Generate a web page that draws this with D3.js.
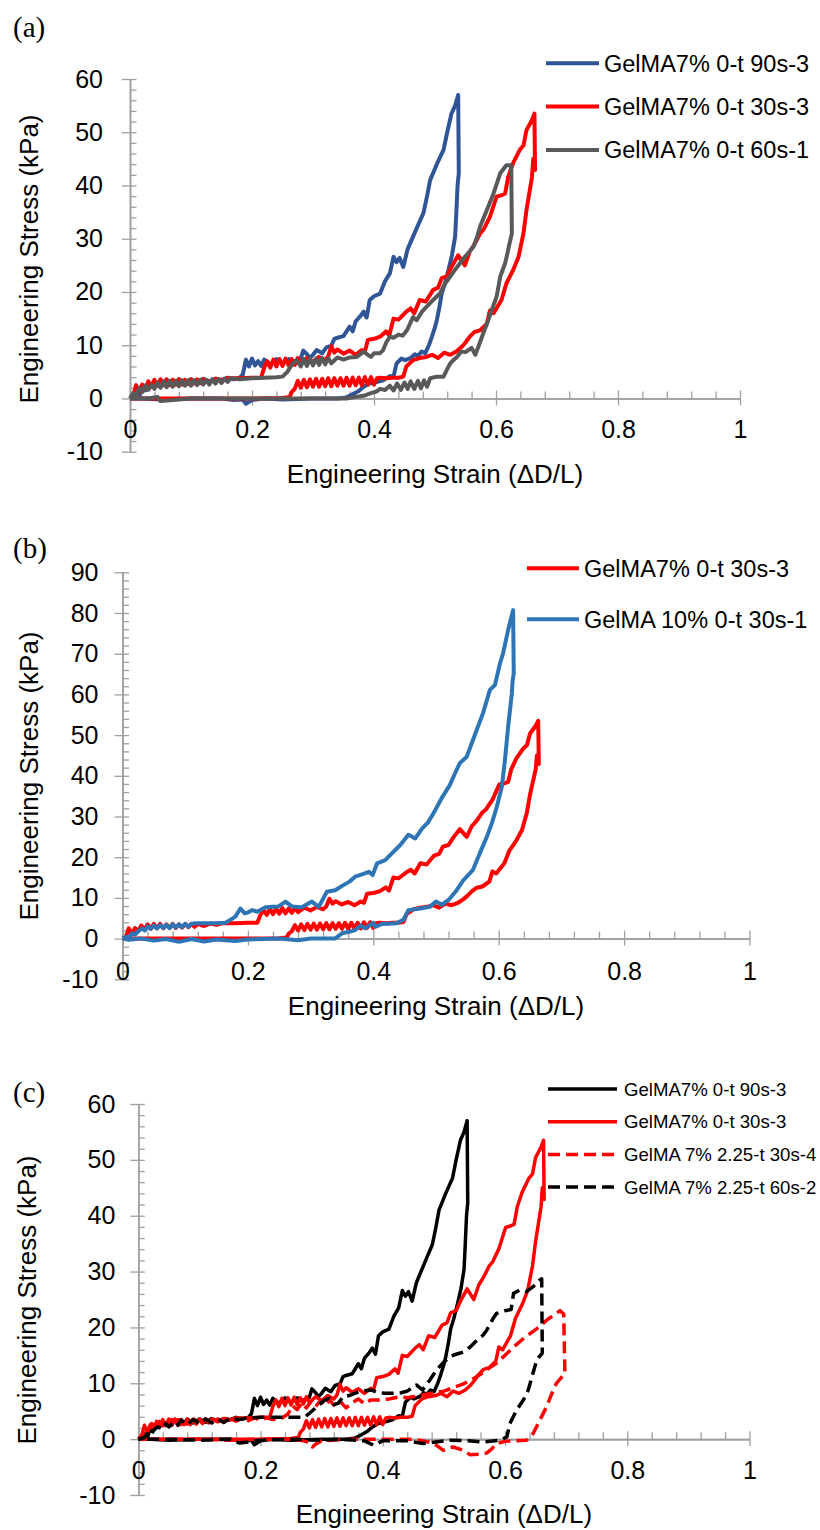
<!DOCTYPE html>
<html>
<head>
<meta charset="utf-8">
<script src="https://cdn.jsdelivr.net/npm/d3@7"></script>
<style>
  body { margin: 0; background: #fff; }
  text { font-family: "Liberation Sans", Arial, sans-serif; }
</style>
</head>
<body>
<div id="chart"></div>
<script>
// tick labels
var xTicks = [0, 0.2, 0.4, 0.6, 0.8, 1];
var yTicksA = [-10, 0, 10, 20, 30, 40, 50, 60];
var yTicksB = [-10, 0, 10, 20, 30, 40, 50, 60, 70, 80, 90];
var yTicksC = [-10, 0, 10, 20, 30, 40, 50, 60];

// series: [strain, stress(kPa)], loading then unloading
var gel7_90s3 = [[0,0],[0.005,0.2],[0.01,1],[0.015,0.3],[0.02,2],[0.025,1.5],[0.03,3],[0.035,2.2],[0.04,3.3],[0.045,2.5],[0.05,3.4],[0.055,2.6],[0.06,3.5],[0.065,2.7],[0.07,3.5],[0.075,2.8],[0.08,3.6],[0.09,2.9],[0.1,3.6],[0.11,3],[0.12,3.7],[0.13,3.2],[0.14,3.7],[0.15,3.5],[0.16,3.9],[0.17,3.6],[0.18,3.9],[0.185,4.5],[0.19,7.3],[0.195,6],[0.2,7.5],[0.205,6.2],[0.21,7],[0.215,6.1],[0.22,7.3],[0.23,6.4],[0.24,7.4],[0.25,6.6],[0.26,7.4],[0.27,6.9],[0.28,7.5],[0.284,9],[0.29,8.3],[0.295,7.6],[0.3,8.2],[0.306,9.1],[0.315,8.5],[0.322,9.6],[0.33,9.9],[0.335,11.2],[0.34,11.4],[0.35,11.7],[0.355,12.6],[0.36,13.5],[0.365,12.6],[0.37,14.5],[0.378,15.5],[0.383,16.3],[0.388,15.2],[0.393,18.5],[0.4,19.2],[0.41,19.7],[0.418,22],[0.426,23.5],[0.432,26.6],[0.437,25.6],[0.442,26.4],[0.448,24.7],[0.455,28],[0.464,30.4],[0.472,32.5],[0.481,34.8],[0.487,38],[0.492,41],[0.503,44],[0.514,46.7],[0.52,50],[0.527,53.5],[0.533,55],[0.538,57],[0.539,42.3],[0.537,40],[0.535,35],[0.533,30.4],[0.528,27],[0.522,24.1],[0.516,21.5],[0.511,19.7],[0.507,17],[0.503,14.7],[0.499,13],[0.495,11.6],[0.49,10],[0.484,8.5],[0.478,8.8],[0.472,8],[0.467,8.3],[0.46,7.6],[0.451,7.2],[0.445,7.5],[0.437,6.6],[0.432,4.1],[0.426,4.2],[0.415,3.4],[0.404,3.1],[0.393,2.8],[0.383,2.2],[0.375,1.4],[0.365,0.8],[0.355,0.2],[0.34,0],[0.3,0],[0.25,-0.2],[0.22,0],[0.2,-0.3],[0.19,-1],[0.185,-0.2],[0.17,-0.3],[0.15,0],[0.1,0],[0.05,-0.2],[0.02,0],[0,0]];

var gel7_30s3 = [[0,0],[0.005,0.3],[0.01,2.5],[0.015,1.2],[0.02,2.6],[0.025,1.8],[0.03,3.2],[0.035,2.2],[0.04,3.5],[0.045,2.4],[0.05,3.6],[0.055,2.5],[0.06,3.6],[0.065,2.5],[0.07,3.5],[0.075,2.6],[0.08,3.6],[0.085,2.6],[0.09,3.5],[0.095,2.7],[0.1,3.6],[0.105,2.8],[0.11,3.6],[0.115,2.9],[0.12,3.6],[0.13,3.1],[0.14,3.7],[0.15,3.4],[0.16,3.8],[0.18,3.8],[0.2,3.9],[0.215,3.9],[0.22,5.8],[0.225,7],[0.23,5.8],[0.235,7.3],[0.24,6],[0.245,7.4],[0.25,6.1],[0.255,7.5],[0.26,6.2],[0.265,7.4],[0.27,6.3],[0.275,7.6],[0.28,6.5],[0.29,7.6],[0.3,6.9],[0.31,7.8],[0.32,7.2],[0.325,7.9],[0.33,9.8],[0.335,8.6],[0.34,9.2],[0.35,8.4],[0.36,9],[0.37,8.2],[0.38,9.1],[0.385,8.8],[0.39,11],[0.4,11.2],[0.41,11.6],[0.42,12.6],[0.425,11.8],[0.432,15],[0.44,14.8],[0.453,16.3],[0.46,16.9],[0.466,16],[0.475,18.5],[0.485,18.2],[0.497,20.4],[0.505,20.8],[0.511,22.6],[0.52,23],[0.527,24.7],[0.538,26.9],[0.549,25],[0.557,27.6],[0.565,29],[0.574,31],[0.58,31.8],[0.59,34.1],[0.601,37.9],[0.61,38.2],[0.615,38.5],[0.62,41.6],[0.628,44.2],[0.639,46.7],[0.645,47.5],[0.65,50.4],[0.659,52.3],[0.663,53.5],[0.664,42.9],[0.661,45],[0.659,41.6],[0.65,35.4],[0.645,31],[0.637,26.6],[0.628,24.1],[0.617,21.6],[0.609,18.5],[0.596,16],[0.59,16.5],[0.585,14],[0.574,12.8],[0.565,12.5],[0.557,11.6],[0.55,10.5],[0.544,9.7],[0.535,8.8],[0.525,8.2],[0.515,8.6],[0.505,7.6],[0.495,8.2],[0.486,7.8],[0.475,7.6],[0.464,7.2],[0.453,6],[0.448,4.1],[0.44,3.9],[0.43,3.9],[0.42,3.8],[0.41,3.9],[0.405,3.8],[0.4,2.6],[0.395,4],[0.39,2.6],[0.385,4],[0.38,2.5],[0.375,3.9],[0.37,2.5],[0.365,3.9],[0.36,2.4],[0.355,3.9],[0.35,2.4],[0.345,3.8],[0.34,2.4],[0.335,3.8],[0.33,2.3],[0.325,3.8],[0.32,2.3],[0.315,3.7],[0.31,2.2],[0.305,3.7],[0.3,2.2],[0.295,3.6],[0.29,2.1],[0.285,3.5],[0.28,2],[0.275,3.3],[0.27,1.8],[0.265,1.2],[0.262,0.3],[0.25,0.1],[0.2,0],[0.15,0],[0.1,0],[0.05,0],[0.02,0],[0,0]];

var gel7_60s1 = [[0,0],[0.005,1],[0.01,0.3],[0.015,2],[0.02,1.2],[0.025,2.4],[0.03,1.6],[0.035,2.6],[0.04,1.8],[0.045,3],[0.05,2],[0.055,3.2],[0.06,2.1],[0.065,3.3],[0.07,2.2],[0.075,3.3],[0.08,2.3],[0.085,3.4],[0.09,2.4],[0.095,3.4],[0.1,2.4],[0.105,3.4],[0.11,2.5],[0.115,3.5],[0.12,2.6],[0.125,3.5],[0.13,2.6],[0.135,3.6],[0.14,2.8],[0.145,3.6],[0.15,2.9],[0.155,3.7],[0.16,3.1],[0.165,3.8],[0.18,3.6],[0.2,3.8],[0.22,3.9],[0.24,4],[0.25,4.1],[0.258,5],[0.265,6.3],[0.273,7.2],[0.28,6],[0.285,7.4],[0.29,6.1],[0.295,7.5],[0.3,6.2],[0.305,7.5],[0.31,6.3],[0.315,7.6],[0.32,6.4],[0.325,7.6],[0.33,6.6],[0.34,7.7],[0.35,7.3],[0.36,7.7],[0.372,7.8],[0.383,8.8],[0.39,8.2],[0.395,7.8],[0.4,8.5],[0.41,8.5],[0.415,9.1],[0.42,10.5],[0.426,11.6],[0.432,11.4],[0.44,12],[0.447,11.8],[0.454,12.8],[0.464,15.3],[0.47,14.7],[0.478,16.2],[0.486,17.2],[0.497,18.5],[0.508,19.7],[0.516,21.5],[0.525,22.9],[0.533,24.2],[0.541,25.4],[0.549,26.6],[0.556,27.5],[0.563,28.5],[0.568,30],[0.574,32.3],[0.585,35.4],[0.596,38.5],[0.607,42.3],[0.617,43.8],[0.625,43.8],[0.626,31],[0.622,29],[0.62,27.9],[0.615,25.4],[0.607,22.9],[0.601,19.1],[0.593,16.6],[0.586,14.3],[0.579,12.2],[0.572,10],[0.566,8.2],[0.56,9.5],[0.55,8.7],[0.543,8.8],[0.536,7.8],[0.53,7.2],[0.525,6.6],[0.52,5.5],[0.514,4.1],[0.503,4.1],[0.492,3.8],[0.487,2.2],[0.482,3.4],[0.477,1.9],[0.472,3.3],[0.466,1.8],[0.46,3.2],[0.455,1.8],[0.45,3],[0.444,1.6],[0.438,2.8],[0.432,1.5],[0.426,2.4],[0.418,1.6],[0.41,1.8],[0.404,1.3],[0.395,1],[0.383,0.5],[0.37,0.3],[0.355,0],[0.3,0],[0.25,0],[0.2,0],[0.15,0],[0.1,0],[0.05,-0.5],[0.045,0.3],[0.03,0],[0,0]];

var gel10_30s1 = [[0,0],[0.005,0.4],[0.01,0.2],[0.015,1.3],[0.02,1],[0.025,1.8],[0.031,2.5],[0.036,2],[0.04,3],[0.045,2.4],[0.05,3.2],[0.055,2.5],[0.06,3.3],[0.065,2.6],[0.07,3.4],[0.075,2.6],[0.08,3.5],[0.085,2.7],[0.09,3.5],[0.095,2.8],[0.1,3.6],[0.105,2.9],[0.11,3.6],[0.116,3.8],[0.13,3.8],[0.15,3.8],[0.164,3.9],[0.172,4.6],[0.18,5.4],[0.188,7.4],[0.195,6.2],[0.2,6.4],[0.207,7],[0.215,6.6],[0.228,7.7],[0.24,7.8],[0.249,7.9],[0.26,9.1],[0.27,7.9],[0.286,7.7],[0.302,9.1],[0.313,7.8],[0.326,11.5],[0.339,11.9],[0.353,13.2],[0.362,14],[0.371,15.2],[0.382,15.8],[0.393,16.4],[0.399,15.6],[0.406,18.5],[0.419,19.3],[0.43,21],[0.443,23],[0.456,25.5],[0.467,24.6],[0.478,27.1],[0.487,28.5],[0.496,30.8],[0.509,34.5],[0.522,37.7],[0.53,40.5],[0.538,43.1],[0.549,44.7],[0.557,48],[0.565,51.3],[0.575,55.4],[0.586,61.1],[0.594,62.3],[0.602,67.6],[0.607,70.1],[0.615,75.8],[0.623,80.7],[0.624,65.2],[0.622,63],[0.621,60.3],[0.615,52],[0.61,43.9],[0.605,37.3],[0.597,32.4],[0.589,28.3],[0.581,25],[0.57,21],[0.559,16.9],[0.544,14.4],[0.533,11.9],[0.52,9.5],[0.509,8.3],[0.5,9.1],[0.49,7.8],[0.475,7.4],[0.456,7],[0.448,4.6],[0.437,3.8],[0.414,3.6],[0.403,2.9],[0.4,3.9],[0.387,2.5],[0.38,3.2],[0.371,2.1],[0.36,1.6],[0.35,1.3],[0.339,0],[0.3,0],[0.28,-0.4],[0.25,0],[0.2,-0.2],[0.18,-0.6],[0.15,-0.2],[0.13,-0.7],[0.11,-0.1],[0.09,-0.8],[0.07,-0.1],[0.05,-0.5],[0.03,0],[0.01,-0.3],[0,0]];

var gel7_225_30s4 = [[0,0],[0.008,1],[0.012,0.4],[0.018,2.2],[0.022,2.8],[0.028,2.2],[0.035,3.2],[0.04,2.4],[0.045,3.4],[0.05,2.5],[0.055,3.5],[0.06,2.6],[0.065,3.5],[0.07,2.6],[0.075,3.5],[0.08,2.7],[0.09,3.6],[0.1,2.8],[0.11,3.6],[0.12,2.9],[0.13,3.6],[0.14,3],[0.15,3.7],[0.16,3.2],[0.17,3.7],[0.18,3.3],[0.19,3.8],[0.2,3.4],[0.21,3.8],[0.22,3.5],[0.235,3.8],[0.245,4.5],[0.252,6],[0.26,5.3],[0.268,6.5],[0.275,5.6],[0.283,6.8],[0.29,5.8],[0.298,6.9],[0.305,6],[0.313,7],[0.32,6.1],[0.33,6.8],[0.34,5.6],[0.35,6.5],[0.36,7.2],[0.37,6.3],[0.38,7],[0.395,7],[0.41,7.2],[0.428,7.6],[0.44,7.4],[0.46,7.8],[0.48,8.2],[0.5,8.6],[0.515,9.2],[0.53,9.8],[0.545,10.6],[0.56,11.6],[0.575,12.8],[0.586,13.6],[0.6,15],[0.614,16.5],[0.628,17.8],[0.641,18.9],[0.655,20],[0.668,21.3],[0.68,22.2],[0.69,23],[0.696,22.4],[0.698,11.8],[0.692,11],[0.684,10],[0.676,8],[0.668,5.8],[0.657,3.4],[0.646,1],[0.635,-0.2],[0.614,-0.3],[0.6,-0.4],[0.586,-0.8],[0.578,-1.8],[0.57,-2.5],[0.555,-2.7],[0.543,-2.8],[0.532,-2],[0.515,-1.4],[0.499,-2],[0.488,-1.1],[0.474,-0.5],[0.461,-0.2],[0.44,0],[0.4,0],[0.35,0],[0.3,-0.3],[0.29,-0.9],[0.285,-1.4],[0.28,-0.6],[0.27,-0.3],[0.25,0],[0.2,0],[0.15,-0.2],[0.1,0],[0.05,0],[0.02,0],[0,0]];

var gel7_225_60s2 = [[0,0],[0.01,0.3],[0.015,1],[0.02,0.6],[0.025,1.6],[0.032,2.2],[0.04,1.8],[0.045,2.8],[0.05,2.2],[0.06,3.2],[0.065,2.5],[0.07,3.4],[0.08,2.6],[0.09,3.5],[0.1,2.8],[0.11,3.6],[0.12,2.9],[0.13,3.6],[0.14,3],[0.15,3.7],[0.163,3.5],[0.18,3.8],[0.2,3.9],[0.22,3.9],[0.24,3.9],[0.26,3.9],[0.272,3.9],[0.283,4.9],[0.294,6],[0.305,7],[0.312,7.3],[0.32,6.2],[0.327,6.4],[0.335,7.6],[0.345,7.8],[0.354,8.2],[0.365,8.6],[0.381,8.8],[0.39,8.4],[0.404,8.2],[0.417,8.2],[0.43,8.3],[0.44,8.6],[0.455,9.7],[0.465,8.8],[0.477,10.6],[0.488,12.4],[0.5,13.8],[0.51,14.8],[0.52,15.2],[0.532,15.6],[0.543,16.5],[0.554,17.7],[0.564,18.6],[0.57,19.5],[0.58,21.5],[0.586,22.5],[0.6,23],[0.61,23.2],[0.614,26.1],[0.624,26.7],[0.635,26.4],[0.646,27.3],[0.657,28.5],[0.66,28.7],[0.661,15.4],[0.652,14.2],[0.645,11.5],[0.638,8.8],[0.63,7],[0.619,5.2],[0.608,2.8],[0.603,0.4],[0.592,-0.2],[0.564,-0.5],[0.54,-0.3],[0.51,-0.2],[0.466,-0.8],[0.44,-0.3],[0.4,-0.3],[0.385,-1.1],[0.37,-0.3],[0.33,0],[0.3,-0.2],[0.25,0],[0.2,-0.2],[0.166,-0.7],[0.15,0],[0.1,-0.2],[0.05,0],[0,0]];

var legendA = ["GelMA7% 0-t 90s-3", "GelMA7% 0-t 30s-3", "GelMA7% 0-t 60s-1"];
var legendB = ["GelMA7% 0-t 30s-3", "GelMA 10% 0-t 30s-1"];
var legendC = ["GelMA7% 0-t 90s-3", "GelMA7% 0-t 30s-3", "GelMA 7% 2.25-t 30s-4", "GelMA 7% 2.25-t 60s-2"];

var W = 820, H = 1530;
var svg = d3.select("#chart").append("svg")
    .attr("width", W).attr("height", H);

var axisColor = "#a0a0a0";

var panels = [
  { tag: "(a)", tagY: 37, x0: 130, x1: 740, yTop: 79, yBot: 451.7, yTicks: yTicksA,
    ylabPad: 19, xlabPad: 15, xTitleY: 483, yTitle: { x: 38, y: 259 }, lw: 4,
    series: [
      { data: gel7_90s3, color: "#2F5597", dash: null },
      { data: gel7_30s3, color: "#FF0000", dash: null },
      { data: gel7_60s1, color: "#595959", dash: null }],
    legend: legendA, leg: { x0: 546, x1: 599, tx: 604, y: 63.3, dy: 43.3, fs: 23.5 } },
  { tag: "(b)", tagY: 558, x0: 122.5, x1: 749.5, yTop: 572.3, yBot: 979.3, yTicks: yTicksB,
    ylabPad: 16, xlabPad: 17, xTitleY: 1015, yTitle: { x: 38, y: 776 }, lw: 4,
    series: [
      { data: gel7_30s3, color: "#FF0000", dash: null },
      { data: gel10_30s1, color: "#2E75B6", dash: null }],
    legend: legendB, leg: { x0: 527, x1: 579, tx: 584, y: 568.3, dy: 51, fs: 23.5 } },
  { tag: "(c)", tagY: 1102, x0: 138.3, x1: 749.5, yTop: 1104, yBot: 1495, yTicks: yTicksC,
    ylabPad: 15, xlabPad: 15, xTitleY: 1523, yTitle: { x: 36, y: 1300 }, lw: 3.5,
    series: [
      { data: gel7_90s3, color: "#000000", dash: null },
      { data: gel7_30s3, color: "#FF0000", dash: null },
      { data: gel7_225_30s4, color: "#FF0000", dash: "12,6" },
      { data: gel7_225_60s2, color: "#000000", dash: "12,6" }],
    legend: legendC, leg: { x0: 548, x1: 617, tx: 624, y: 1089, dy: 32.7, fs: 18.6 } }
];

panels.forEach(function(p) {
  var yMin = d3.min(p.yTicks), yMax = d3.max(p.yTicks);
  var x = d3.scaleLinear().domain([0, 1]).range([p.x0, p.x1]);
  var y = d3.scaleLinear().domain([yMin, yMax]).range([p.yBot, p.yTop]);
  var g = svg.append("g");

  // panel tag
  g.append("text").attr("x", 13).attr("y", p.tagY)
    .style("font-family", "'Liberation Serif', 'Times New Roman', serif")
    .style("font-size", "29px").text(p.tag);

  // y axis: minor ticks inside, major ticks crossing
  var yMinor = d3.range(yMin, yMax + 0.001, 2).filter(function(v) { return v % 10 !== 0; });
  var yMinorAx = g.append("g").attr("transform", "translate(" + p.x0 + ",0)")
    .call(d3.axisRight(y).tickValues(yMinor).tickSize(6.5).tickSizeOuter(0).tickFormat(""));
  var yAx = g.append("g").attr("transform", "translate(" + p.x0 + ",0)")
    .call(d3.axisLeft(y).tickValues(p.yTicks).tickSize(8).tickSizeOuter(0).tickPadding(p.ylabPad)
      .tickFormat(function(d) { return String(d); }));
  yAx.selectAll(".tick line").attr("x1", 6.5);

  // x axis at stress = 0
  var xMinor = d3.range(0, 1.0001, 0.04).filter(function(v) { return Math.abs(v * 5 - Math.round(v * 5)) > 1e-6; });
  var xMinorAx = g.append("g").attr("transform", "translate(0," + y(0) + ")")
    .call(d3.axisTop(x).tickValues(xMinor).tickSize(7).tickSizeOuter(0).tickFormat(""));
  var xAx = g.append("g").attr("transform", "translate(0," + y(0) + ")")
    .call(d3.axisBottom(x).tickValues(xTicks).tickSize(7).tickSizeOuter(0).tickPadding(p.xlabPad)
      .tickFormat(function(d) { return String(d); }));
  xAx.selectAll(".tick line").attr("y1", -8);

  [yMinorAx, yAx, xMinorAx, xAx].forEach(function(a) {
    a.selectAll("path.domain").attr("stroke", axisColor).attr("stroke-width", 1.6);
    a.selectAll(".tick line").attr("stroke", axisColor).attr("stroke-width", 1.3);
    a.selectAll(".tick text").style("font-size", "25px")
      .style("font-family", "'Liberation Sans', Arial, sans-serif").attr("fill", "#000");
  });

  // axis titles
  g.append("text").attr("x", (p.x0 + p.x1) / 2).attr("y", p.xTitleY)
    .attr("text-anchor", "middle").style("font-size", "26px")
    .text("Engineering Strain (\u0394D/L)");
  g.append("text")
    .attr("transform", "translate(" + p.yTitle.x + "," + p.yTitle.y + ") rotate(-90)")
    .attr("text-anchor", "middle").style("font-size", "26px")
    .text("Engineering Stress (kPa)");

  // curves
  var line = d3.line().x(function(d) { return x(d[0]); }).y(function(d) { return y(d[1]); });
  p.series.forEach(function(s) {
    g.append("path").datum(s.data)
      .attr("fill", "none").attr("stroke", s.color)
      .attr("stroke-width", p.lw).attr("stroke-linejoin", "round")
      .attr("stroke-dasharray", s.dash)
      .attr("d", line);
  });

  // legend
  var lg = g.append("g");
  p.legend.forEach(function(name, i) {
    var s = p.series[i];
    var ly = p.leg.y + i * p.leg.dy;
    lg.append("line").attr("x1", p.leg.x0).attr("x2", p.leg.x1)
      .attr("y1", ly).attr("y2", ly)
      .attr("stroke", s.color).attr("stroke-width", p.lw)
      .attr("stroke-dasharray", s.dash);
    lg.append("text").attr("x", p.leg.tx).attr("y", ly).attr("dy", "0.35em")
      .style("font-size", p.leg.fs + "px").text(name);
  });
});
</script>
</body>
</html>
